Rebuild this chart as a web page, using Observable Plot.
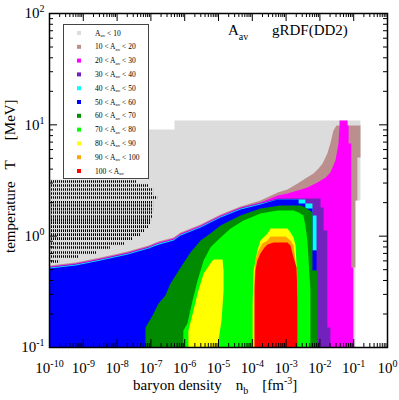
<!DOCTYPE html>
<html><head><meta charset="utf-8">
<script src="https://cdn.jsdelivr.net/npm/d3@7"></script>
<script src="https://cdn.jsdelivr.net/npm/@observablehq/plot@0.6"></script>
<style>
body{margin:0;background:#fff;}
svg{font-family:"Liberation Serif","DejaVu Serif",serif;}
</style>
</head><body><div id="chart"></div>
<script>
// ---- DATA: region outlines as [log10(n_b / fm^-3), log10(T / MeV)] ----
const grayRegion = [[-10,-1],[-10,0.509],[-7.1,0.509],[-7.1,0.958],[-6.3,0.958],[-6.3,1.039],[-0.80,1.039],[-0.80,0.320],[-0.95,0.320],[-0.95,-1]];
const brownRegion = [[-10,-1],[-10,-0.264],[-9.23,-0.237],[-8.49,-0.192],[-7.69,-0.138],[-7.07,-0.084],[-6.78,-0.049],[-6.33,-0.013],[-6.12,0.032],[-5.53,0.104],[-4.94,0.194],[-4.35,0.266],[-3.76,0.320],[-3.25,0.392],[-2.96,0.419],[-2.66,0.473],[-2.43,0.518],[-2.19,0.562],[-2.04,0.607],[-1.92,0.652],[-1.78,0.742],[-1.69,0.832],[-1.60,0.950],[-1.51,0.994],[-0.80,0.994],[-0.80,0.706],[-0.89,0.706],[-0.89,0.320],[-0.95,0.320],[-0.95,-0.282],[-1.04,-0.282],[-1.04,-1]];
const pinkRegion = [[-10,-1],[-10,-0.273],[-9.23,-0.246],[-8.49,-0.201],[-7.69,-0.147],[-7.07,-0.093],[-6.78,-0.058],[-6.33,-0.022],[-6.12,0.023],[-5.53,0.095],[-4.94,0.185],[-4.35,0.257],[-3.76,0.302],[-3.25,0.365],[-2.96,0.383],[-2.66,0.410],[-2.37,0.437],[-2.07,0.482],[-1.83,0.527],[-1.69,0.571],[-1.54,0.679],[-1.45,0.832],[-1.42,0.994],[-1.42,1.039],[-1.18,1.039],[-1.18,0.994],[-1.15,0.994],[-1.15,0.832],[-1.07,0.832],[-1.07,-0.282],[-1.01,-0.282],[-1.01,-1]];
const purpleRegion = [[-10,-1],[-10,-0.278],[-9.23,-0.251],[-8.49,-0.206],[-7.69,-0.152],[-7.07,-0.098],[-6.78,-0.063],[-6.33,-0.027],[-6.12,0.018],[-5.53,0.090],[-4.94,0.180],[-4.35,0.252],[-3.76,0.297],[-3.25,0.338],[-1.98,0.338],[-1.98,0.257],[-1.89,0.257],[-1.89,0.050],[-1.78,0.050],[-1.78,-0.821],[-1.69,-0.821],[-1.69,-1]];
const cyanRegion = [[-10,-1],[-10,-0.284],[-9.23,-0.257],[-8.49,-0.212],[-7.69,-0.158],[-7.07,-0.104],[-6.78,-0.069],[-6.33,-0.033],[-6.12,0.012],[-5.53,0.084],[-4.94,0.174],[-4.35,0.246],[-3.76,0.291],[-3.25,0.329],[-2.43,0.329],[-2.43,0.293],[-2.22,0.293],[-2.22,0.185],[-2.10,0.185],[-2.10,-0.129],[-2.22,-0.129],[-2.22,-1]];
const blueRegion = [[-10,-1],[-10,-0.291],[-9.23,-0.264],[-8.49,-0.219],[-7.69,-0.165],[-7.07,-0.111],[-6.78,-0.076],[-6.33,-0.040],[-6.12,0.005],[-5.53,0.077],[-4.94,0.167],[-4.35,0.239],[-3.76,0.284],[-3.25,0.329],[-2.63,0.329],[-2.63,0.293],[-2.43,0.293],[-2.43,0.248],[-2.22,0.248],[-2.22,-0.129],[-2.10,-0.129],[-2.10,-1]];
const darkGreenRegion = [[-7.16,-1],[-7.16,-0.821],[-6.95,-0.713],[-6.78,-0.606],[-6.57,-0.534],[-6.42,-0.426],[-6.12,-0.282],[-5.83,-0.147],[-5.53,-0.040],[-5.24,0.023],[-4.94,0.095],[-4.35,0.185],[-3.76,0.248],[-3.17,0.275],[-2.57,0.275],[-2.43,0.257],[-2.22,0.212],[-2.22,-0.309],[-2.07,-0.309],[-2.07,-1]];
const greenRegion = [[-6.04,-1],[-6.04,-0.848],[-5.92,-0.785],[-5.77,-0.579],[-5.62,-0.399],[-5.44,-0.219],[-5.24,-0.102],[-4.94,-0.013],[-4.64,0.068],[-4.26,0.140],[-3.76,0.203],[-3.25,0.230],[-2.78,0.230],[-2.63,0.212],[-2.49,0.185],[-2.43,0.095],[-2.37,-0.040],[-2.28,-0.489],[-2.28,-1]];
const yellowLeftRegion = [[-5.89,-1],[-5.89,-0.848],[-5.74,-0.668],[-5.62,-0.516],[-5.44,-0.336],[-5.24,-0.246],[-5.15,-0.210],[-4.88,-0.210],[-4.85,-0.309],[-4.85,-0.489],[-4.91,-0.758],[-5.00,-0.938],[-5.00,-1]];
const yellowRightRegion = [[-3.99,-1],[-3.99,-0.606],[-3.96,-0.309],[-3.85,-0.129],[-3.76,-0.040],[-3.55,0.023],[-3.46,0.068],[-2.96,0.068],[-2.87,0.032],[-2.78,-0.013],[-2.72,-0.084],[-2.69,-0.264],[-2.66,-0.579],[-2.66,-1]];
const orangeRegion = [[-3.96,-1],[-3.96,-0.489],[-3.91,-0.219],[-3.82,-0.129],[-3.70,-0.066],[-3.55,-0.040],[-3.46,-0.004],[-3.02,-0.004],[-2.87,-0.040],[-2.78,-0.084],[-2.72,-0.219],[-2.69,-0.489],[-2.66,-1]];
const redRegion = [[-3.93,-1],[-3.93,-0.489],[-3.91,-0.309],[-3.85,-0.219],[-3.76,-0.156],[-3.64,-0.102],[-3.55,-0.075],[-3.37,-0.058],[-2.96,-0.058],[-2.87,-0.084],[-2.78,-0.192],[-2.69,-0.282],[-2.66,-0.579],[-2.66,-1]];

// hatched (unstable) rows: log10 T and right end log10 n_b
const hatchLogT   = [0.491,0.455,0.419,0.383,0.347,0.305,0.275,0.243,0.212,0.176,0.149,0.122,0.086,0.050,0.014,-0.022,-0.066,-0.102,-0.147,-0.183,-0.228];
const hatchLogEnd = [-7.40,-7.07,-6.92,-6.92,-6.80,-6.92,-6.92,-6.92,-6.95,-6.95,-6.98,-7.01,-7.07,-7.16,-7.31,-7.54,-7.78,-8.20,-8.58,-9.14,-9.70];

// axis ticks (exponents)
const xTickExp = [-10,-9,-8,-7,-6,-5,-4,-3,-2,-1,0];
const yTickExp = [-1,0,1,2];

// legend
const legendLow  = [null,10,20,30,40,50,60,70,80,90,100];
const legendHigh = [10,20,30,40,50,60,70,80,90,100,null];
const legendColors = ["#dcdcdc","#bc8f8f","#ff00ff","#7221bc","#00ffff","#0000ff","#008b00","#00ff00","#ffff00","#ffa500","#ff0000"];

// ---- CHART ----
const W = 399, H = 400, mL = 49, mR = 12, mT = 13, mB = 53;
const pw = W - mL - mR, ph = H - mT - mB;
const toPts = a => a.map(([lx, lt]) => ({nb: 10 ** lx, T: 10 ** lt}));
const layers = [
  [grayRegion, legendColors[0]], [brownRegion, legendColors[1]], [pinkRegion, legendColors[2]],
  [purpleRegion, legendColors[3]], [cyanRegion, legendColors[4]], [blueRegion, legendColors[5]],
  [darkGreenRegion, legendColors[6]], [greenRegion, legendColors[7]],
  [yellowLeftRegion, legendColors[8]], [yellowRightRegion, legendColors[8]],
  [orangeRegion, legendColors[9]], [redRegion, legendColors[10]]
];
const hatchRows = hatchLogT.map((t, i) => ({T: 10 ** t, start: 1e-10, end: 10 ** hatchLogEnd[i]}));
const xMajor = xTickExp.map(e => 10 ** e);
const yMajor = yTickExp.map(e => 10 ** e);
const minorOf = exps => exps.slice(0, -1).flatMap(e => [2,3,4,5,6,7,8,9].map(m => m * 10 ** e));
const xMinor = minorOf(xTickExp), yMinor = minorOf(yTickExp);
const fmt = d => "10^" + Math.round(Math.log10(d));

const chart = Plot.plot({
  width: W, height: H, marginLeft: mL, marginRight: mR, marginTop: mT, marginBottom: mB,
  style: {fontFamily: "Liberation Serif", fontSize: "15px", background: "white", color: "black"},
  x: {type: "log", domain: [1e-10, 1], axis: null},
  y: {type: "log", domain: [0.1, 100], axis: null},
  marks: [
    ...layers.map(([arr, c]) => Plot.line(toPts(arr), {x: "nb", y: "T", fill: c, stroke: "none"})),
    Plot.ruleY(hatchRows, {y: "T", x1: "start", x2: "end", stroke: "#000", strokeWidth: 2.6, strokeDasharray: "1,1"}),
    // inward ticks on all four sides
    Plot.ruleX(xMajor, {x: d => d, insetTop: ph - 8, stroke: "black"}),
    Plot.ruleX(xMinor, {x: d => d, insetTop: ph - 4, stroke: "black"}),
    Plot.ruleX(xMajor, {x: d => d, insetBottom: ph - 8, stroke: "black"}),
    Plot.ruleX(xMinor, {x: d => d, insetBottom: ph - 4, stroke: "black"}),
    Plot.ruleY(yMajor, {y: d => d, insetRight: pw - 8, stroke: "black"}),
    Plot.ruleY(yMinor, {y: d => d, insetRight: pw - 4, stroke: "black"}),
    Plot.ruleY(yMajor, {y: d => d, insetLeft: pw - 8, stroke: "black"}),
    Plot.ruleY(yMinor, {y: d => d, insetLeft: pw - 4, stroke: "black"}),
    Plot.frame({stroke: "black", strokeWidth: 1.5}),
    Plot.axisX(xMajor, {anchor: "bottom", tickSize: 0, tickPadding: 15, tickFormat: fmt, fontSize: 15, label: null}),
    Plot.axisY(yMajor, {anchor: "left", tickSize: 0, tickPadding: 5, tickFormat: fmt, fontSize: 15, label: null})
  ]
});
document.getElementById("chart").appendChild(chart);

const svg = d3.select(chart);
// superscripts in tick labels
svg.selectAll('g[aria-label="x-axis tick label"] text, g[aria-label="y-axis tick label"] text').each(function () {
  const [b, e] = this.textContent.split("^");
  const t = d3.select(this); t.text(null);
  t.append("tspan").text(b);
  t.append("tspan").attr("dy", -6).attr("font-size", 10).text(e);
});

const extra = svg.append("g").attr("text-anchor", "start").attr("fill", "black");

// axis titles
const xt = extra.append("text").attr("x", 133).attr("y", 390).attr("font-size", 15);
xt.append("tspan").text("baryon density");
xt.append("tspan").attr("dx", 14).text("n");
xt.append("tspan").attr("dy", 4).attr("font-size", 10).text("b");
xt.append("tspan").attr("dy", -4).attr("dx", 14).text("[fm");
xt.append("tspan").attr("dy", -6).attr("font-size", 10).text("-3");
xt.append("tspan").attr("dy", 6).text("]");

const yt = extra.append("text").attr("transform", "translate(15,253) rotate(-90)").attr("font-size", 15);
yt.append("tspan").text("temperature");
yt.append("tspan").attr("dx", 12).text("T");
yt.append("tspan").attr("dx", 20).text("[MeV]");

// annotation
const an = extra.append("text").attr("x", 228).attr("y", 35).attr("font-size", 15);
an.append("tspan").text("A");
an.append("tspan").attr("dy", 5).attr("font-size", 10).text("av");
extra.append("text").attr("x", 272).attr("y", 35).attr("font-size", 15).text("gRDF(DD2)");

// legend box
const lg = extra.append("g");
lg.append("rect").attr("x", 63.5).attr("y", 24.5).attr("width", 85).attr("height", 154)
  .attr("fill", "white").attr("stroke", "#444").attr("stroke-width", 1);
legendColors.forEach((c, i) => {
  const y = 33 + i * 13.8;
  lg.append("rect").attr("x", 77).attr("y", y - 2).attr("width", 4).attr("height", 4).attr("fill", c);
  const t = lg.append("text").attr("x", 95).attr("y", y + 2.5).attr("font-size", 7.5);
  t.append("tspan").text((legendLow[i] != null ? legendLow[i] + " < " : "") + "A");
  t.append("tspan").attr("dy", 1.5).attr("font-size", 5).text("av");
  if (legendHigh[i] != null) t.append("tspan").attr("dy", -1.5).text(" < " + legendHigh[i]);
});
</script>
</body></html>
